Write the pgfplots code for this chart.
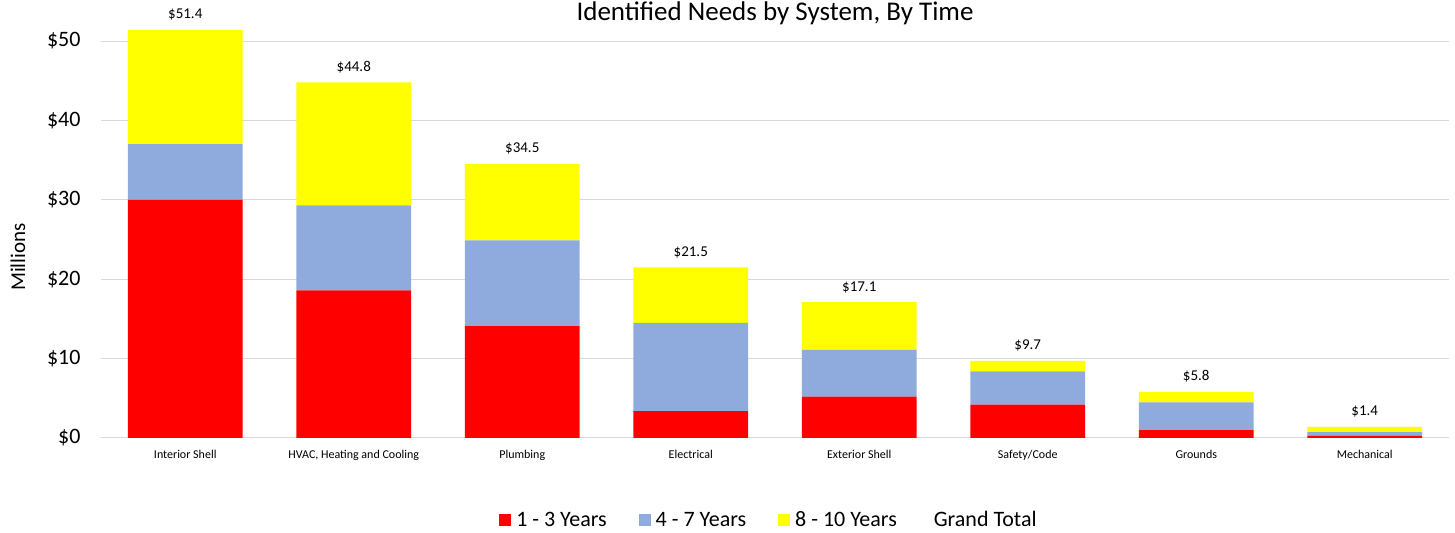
\documentclass[border=0pt]{standalone}
\usepackage{fontspec}
\setmainfont{Carlito}
\usepackage{pgfplots}
\usepackage{pgfplotstable}
\pgfplotsset{compat=1.18}

\definecolor{cred}{HTML}{FF0000}
\definecolor{cblue}{HTML}{8FAADC}
\definecolor{cyellow}{HTML}{FFFF00}
\definecolor{gridgray}{HTML}{D9D9D9}

% x, 1-3 yrs, 4-7 yrs, 8-10 yrs, total
\pgfplotstableread{
x  a     b     c     tot
0  30.0  7.0   14.4  51.4
1  18.6  10.7  15.5  44.8
2  14.1  10.8  9.6   34.5
3  3.4   11.1  7.0   21.5
4  5.2   5.9   6.0   17.1
5  4.2   4.2   1.3   9.7
6  1.0   3.5   1.3   5.8
7  0.3   0.45  0.65  1.4
}\needs

\pgfplotsset{frame/.style={
  at={(101bp,95bp)}, anchor=south west,
  scale only axis,
  width=1348bp, height=420.8bp,
  xmin=-0.5, xmax=7.5,
  ymin=0, ymax=53,
  /pgf/number format/assume math mode=true,
}}

\begin{document}
\begin{tikzpicture}[x=1bp,y=1bp]
\path[use as bounding box] (0,0) rectangle (1455,533);
\node[font=\fontsize{27bp}{30bp}\selectfont, anchor=center] at (775,520) {Identified Needs by System, By Time};
\begin{axis}[
  frame,
  ybar stacked,
  bar width=0.68,
  ytick={0,10,20,30,40,50},
  xtick=data,
  xticklabels={Interior Shell,{HVAC, Heating and Cooling},Plumbing,Electrical,Exterior Shell,Safety/Code,Grounds,Mechanical},
  xticklabel style={font=\fontsize{12bp}{14bp}\selectfont, yshift=-9bp},
  yticklabel={\$\pgfmathprintnumber{\tick}},
  yticklabel style={font=\fontsize{22bp}{24bp}\selectfont, xshift=-17bp},
  major tick length=0pt,
  axis line style={draw=none},
  ymajorgrids,
  grid style={gridgray, line width=1bp},
  ylabel={Millions},
  ylabel style={at={(axis description cs:-0.0616,0.43)}, anchor=center, font=\fontsize{21bp}{24bp}\selectfont},
  legend columns=4,
  legend style={at={(0.4955,-0.195)}, anchor=center, draw=none,
    font=\fontsize{22bp}{24bp}\selectfont,
    /tikz/every odd column/.append style={column sep=3bp},
    /tikz/every even column/.append style={column sep=30bp}},
  legend image code/.code={\fill[#1] (0bp,-6bp) rectangle (12bp,6bp);},
]
\addplot[fill=cred, draw=none] table[x=x, y=a] {\needs};
\addlegendentry{1 - 3 Years}
\addplot[fill=cblue, draw=none] table[x=x, y=b] {\needs};
\addlegendentry{4 - 7 Years}
\addplot[fill=cyellow, draw=none] table[x=x, y=c] {\needs};
\addlegendentry{8 - 10 Years}
\addlegendimage{empty legend}
\addlegendentry{Grand Total}
\end{axis}
% totals above the bars
\begin{axis}[frame, hide axis, clip=false]
\addplot[draw=none, mark=none, point meta=explicit,
  nodes near coords={\$\pgfmathprintnumber[fixed,fixed zerofill,precision=1]{\pgfplotspointmeta}},
  nodes near coords style={anchor=south, yshift=6bp, font=\fontsize{15bp}{17bp}\selectfont, text=black}]
  table[x=x, y=tot, meta=tot] {\needs};
\end{axis}
\end{tikzpicture}
\end{document}
